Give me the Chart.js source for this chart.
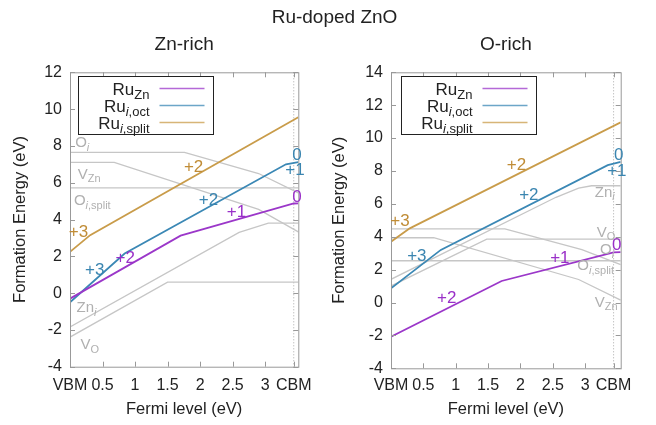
<!DOCTYPE html>
<html>
<head>
<meta charset="utf-8">
<script src="https://cdn.jsdelivr.net/npm/chart.js@4.4.1/dist/chart.umd.min.js"></script>
<style>
  body { margin: 0; background: #fff; }
  #wrap { position: relative; width: 656px; height: 425px; font-family: "Liberation Sans", Arial, sans-serif; }
  #title { position: absolute; left: 0; top: 6px; width: 669px; text-align: center; font-size: 19px; line-height: 22px; color: #222; }
  canvas { position: absolute; top: 0; }
</style>
</head>
<body>
<div id="wrap">
  <canvas id="znRich" width="328" height="425" style="left:0"></canvas>
  <canvas id="oRich" width="328" height="425" style="left:328px"></canvas>
  <div id="title">Ru-doped ZnO</div>
</div>
<script>
const FONT = '"Liberation Sans", Arial, sans-serif';
Chart.defaults.font.family = FONT;
Chart.defaults.color = '#222';

// x axis: band edges and ticks (eV)
const cbm = 3.44;
const xTicks = [0, 0.5, 1, 1.5, 2, 2.5, 3, cbm];
const xTickLabels = ['VBM', '0.5', '1', '1.5', '2', '2.5', '3', 'CBM'];

// names: text after | is subscript, _x_ is italic
const seriesNames = ['Ru|Zn', 'Ru|_i_,oct', 'Ru|_i_,split'];
const defectNames = ['O|_i_', 'V|Zn', 'O|_i_,split', 'Zn|_i_', 'V|O'];

const lineColors = ['#9b37c9', '#3b88b5', '#c99c4a'];
const textColors = ['#9a30c8', '#3a85b0', '#c08c36'];
const grey = '#c6c6c6';

// Zn-rich: [Fermi level, formation energy]
const znRuZn = [[0, -0.3], [1.7, 3.12], [3.44, 4.87], [3.51, 4.88]];
const znRuOct = [[0, -0.5], [0.84, 2.15], [3.32, 7.0], [3.51, 7.12]];
const znRuSplit = [[0, 2.24], [0.31, 3.15], [3.51, 9.56]];
const znOi = [[0, 7.65], [1.76, 7.65], [2.9, 6.5], [3.51, 5.45]];
const znVZn = [[0, 7.1], [0.68, 7.1], [2.9, 4.55], [3.51, 3.33]];
const znOsplit = [[0, 5.72], [3.51, 5.72]];
const znZni = [[0, -1.84], [2.6, 3.3], [3.05, 3.8], [3.51, 3.8]];
const znVO = [[0, -2.39], [1.5, 0.6], [3.51, 0.6]];

// O-rich
const oRuZn = [[0, -2.08], [1.71, 1.31], [3.44, 3.05], [3.55, 3.07]];
const oRuOct = [[0, 0.86], [0.77, 3.2], [3.35, 8.35], [3.55, 8.55]];
const oRuSplit = [[0, 3.7], [0.29, 4.51], [3.55, 10.96]];
const oOi = [[0, 4.48], [1.76, 4.48], [2.95, 3.22], [3.55, 2.3]];
const oVZn = [[0, 3.94], [0.66, 3.94], [2.9, 1.4], [3.55, 0.15]];
const oOsplit = [[0, 2.54], [3.55, 2.54]];
const oZni = [[0, 1.41], [2.55, 6.4], [2.9, 6.95], [3.1, 7.1], [3.55, 7.1]];
const oVO = [[0, 1.0], [1.48, 3.86], [3.55, 3.86]];

// charge state labels: [text, series, x, y]
const znCharges = [['+3', 2, 0.13, 3.33], ['+2', 2, 1.9, 6.86], ['+3', 1, 0.38, 1.24], ['+2', 1, 2.13, 5.05],
  ['0', 1, 3.49, 7.5], ['+1', 1, 3.46, 6.68], ['+2', 0, 0.85, 1.88], ['+1', 0, 2.56, 4.41], ['0', 0, 3.49, 5.23]];
const oCharges = [['+3', 2, 0.14, 4.91], ['+2', 2, 1.94, 8.32], ['+3', 1, 0.4, 2.79], ['+2', 1, 2.13, 6.54],
  ['0', 1, 3.52, 8.97], ['+1', 1, 3.49, 7.95], ['+2', 0, 0.86, 0.26], ['+1', 0, 2.61, 2.69], ['0', 0, 3.49, 3.5]];

// defect labels: [defect, x start, y]
const znDefectLabels = [[0, 0.08, 8.22], [1, 0.12, 6.5], [2, 0.06, 5.05], [3, 0.1, -0.76], [4, 0.16, -2.79]];
const oDefectLabels = [[3, 3.15, 6.74], [4, 3.18, 4.31], [0, 3.23, 3.24], [2, 2.88, 2.28], [1, 3.15, 0.05]];

function drawName(ctx, name, x, y, size, align) {
  const [base, sub] = name.split('|');
  const parts = sub.split('_').map((t, i) => ({ t, it: i % 2 === 1 })).filter(p => p.t);
  const subSize = Math.round(size * 0.76);
  const f = (s, it) => (it ? 'italic ' : '') + s + 'px ' + FONT;
  ctx.font = f(size);
  const wb = ctx.measureText(base).width;
  let ws = 0;
  parts.forEach(p => { ctx.font = f(subSize, p.it); ws += ctx.measureText(p.t).width; });
  let cx = align === 'right' ? x - wb - ws : x;
  ctx.textAlign = 'left';
  ctx.textBaseline = 'alphabetic';
  ctx.font = f(size);
  ctx.fillText(base, cx, y);
  cx += wb;
  parts.forEach(p => {
    ctx.font = f(subSize, p.it);
    ctx.fillText(p.t, cx, y + size * 0.25);
    cx += ctx.measureText(p.t).width;
  });
}

const decor = {
  id: 'decor',
  beforeDatasetsDraw(chart) {
    const { ctx, chartArea: a, scales: { x } } = chart;
    const px = x.getPixelForValue(cbm);
    ctx.save();
    ctx.strokeStyle = '#aaa';
    ctx.lineWidth = 1;
    ctx.setLineDash([1, 2]);
    ctx.beginPath();
    ctx.moveTo(px, a.top);
    ctx.lineTo(px, a.bottom);
    ctx.stroke();
    ctx.restore();
  },
  afterDatasetsDraw(chart, args, o) {
    const { ctx, chartArea: a, scales: { x, y } } = chart;
    ctx.save();
    ctx.strokeStyle = '#999';
    ctx.lineWidth = 1;
    ctx.strokeRect(a.left + 0.5, a.top + 0.5, a.right - a.left, a.bottom - a.top);
    ctx.beginPath();
    x.ticks.forEach(t => {
      const p = Math.round(x.getPixelForValue(t.value)) + 0.5;
      ctx.moveTo(p, a.bottom); ctx.lineTo(p, a.bottom - 5);
      ctx.moveTo(p, a.top); ctx.lineTo(p, a.top + 5);
    });
    y.ticks.forEach(t => {
      const p = Math.round(y.getPixelForValue(t.value)) + 0.5;
      ctx.moveTo(a.left, p); ctx.lineTo(a.left + 5, p);
      ctx.moveTo(a.right, p); ctx.lineTo(a.right - 5, p);
    });
    ctx.stroke();

    ctx.fillStyle = '#b0b0b0';
    o.defectLabels.forEach(([i, vx, vy]) => {
      drawName(ctx, defectNames[i], x.getPixelForValue(vx), y.getPixelForValue(vy) + 5, 15, 'left');
    });

    ctx.font = '17px ' + FONT;
    ctx.textAlign = 'center';
    ctx.textBaseline = 'middle';
    o.charges.forEach(([txt, i, vx, vy]) => {
      ctx.fillStyle = textColors[i];
      ctx.fillText(txt, x.getPixelForValue(vx), y.getPixelForValue(vy));
    });

    const L = Math.round(a.left + o.legendX) + 0.5, T = Math.round(a.top + 4) + 0.5;
    ctx.fillStyle = '#fff';
    ctx.fillRect(L, T, 135, 58);
    ctx.strokeStyle = '#222';
    ctx.strokeRect(L, T, 135, 58);
    seriesNames.forEach((n, i) => {
      const cy = T + 12 + i * 17;
      ctx.fillStyle = '#222';
      drawName(ctx, n, L + 71, cy + 6, 17, 'right');
      ctx.strokeStyle = lineColors[i];
      ctx.globalAlpha = 0.75;
      ctx.lineWidth = 1.4;
      ctx.beginPath();
      ctx.moveTo(L + 81, cy);
      ctx.lineTo(L + 126, cy);
      ctx.stroke();
      ctx.globalAlpha = 1;
    });
    ctx.restore();
  }
};

function makeChart(id, c) {
  const datasets = [];
  c.series.forEach((pts, i) => datasets.push({
    data: pts.map(([x, y]) => ({ x, y })), borderColor: lineColors[i], borderWidth: 1.8
  }));
  c.defects.forEach(pts => datasets.push({
    data: pts.map(([x, y]) => ({ x, y })), borderColor: grey, borderWidth: 1.3
  }));
  return new Chart(document.getElementById(id), {
    type: 'line',
    data: { datasets },
    options: {
      responsive: false,
      animation: false,
      layout: { padding: { left: 0, right: c.padRight, top: 0, bottom: c.padBottom } },
      elements: { point: { radius: 0 }, line: { tension: 0 } },
      plugins: {
        legend: { display: false },
        tooltip: { enabled: false },
        title: {
          display: true, text: c.title, fullSize: false, color: '#222',
          font: { size: 19, weight: 'normal' }, padding: { top: 33.6, bottom: 15.9 }
        },
        decor: { charges: c.charges, defectLabels: c.defectLabels, legendX: c.legendX }
      },
      scales: {
        x: {
          type: 'linear', min: 0, max: c.xMax,
          afterBuildTicks: s => { s.ticks = xTicks.map(v => ({ value: v })); },
          afterFit: s => { s.height = c.xHeight; },
          ticks: { callback: (v, i) => xTickLabels[i], autoSkip: false, maxRotation: 0, padding: c.xPad, font: { size: 16 } },
          grid: { display: false, drawTicks: false },
          border: { display: false },
          title: { display: true, text: 'Fermi level (eV)', font: { size: 16.5 }, padding: 0 }
        },
        y: {
          min: -4, max: c.yMax,
          afterFit: s => { s.width = c.yWidth; },
          ticks: { stepSize: 2, padding: 8, font: { size: 16 } },
          grid: { display: false, drawTicks: false },
          border: { display: false },
          title: { display: true, text: 'Formation Energy (eV)', font: { size: 16.5 }, padding: { top: c.yTitlePad, bottom: 0 } }
        }
      }
    },
    plugins: [decor]
  });
}

makeChart('znRich', {
  title: 'Zn-rich', yMax: 12, xMax: 3.51,
  series: [znRuZn, znRuOct, znRuSplit],
  defects: [znOi, znVZn, znOsplit, znZni, znVO],
  charges: znCharges, defectLabels: znDefectLabels,
  padRight: 29.7, padBottom: 5.3, xHeight: 53, xPad: 9, yWidth: 70, yTitlePad: 11, legendX: 8
});

makeChart('oRich', {
  title: 'O-rich', yMax: 14, xMax: 3.55,
  series: [oRuZn, oRuOct, oRuSplit],
  defects: [oOi, oVZn, oOsplit, oZni, oVO],
  charges: oCharges, defectLabels: oDefectLabels,
  padRight: 35.3, padBottom: 5.4, xHeight: 51.3, xPad: 7.5, yWidth: 63, yTitlePad: 2, legendX: 10
});
</script>
</body>
</html>
